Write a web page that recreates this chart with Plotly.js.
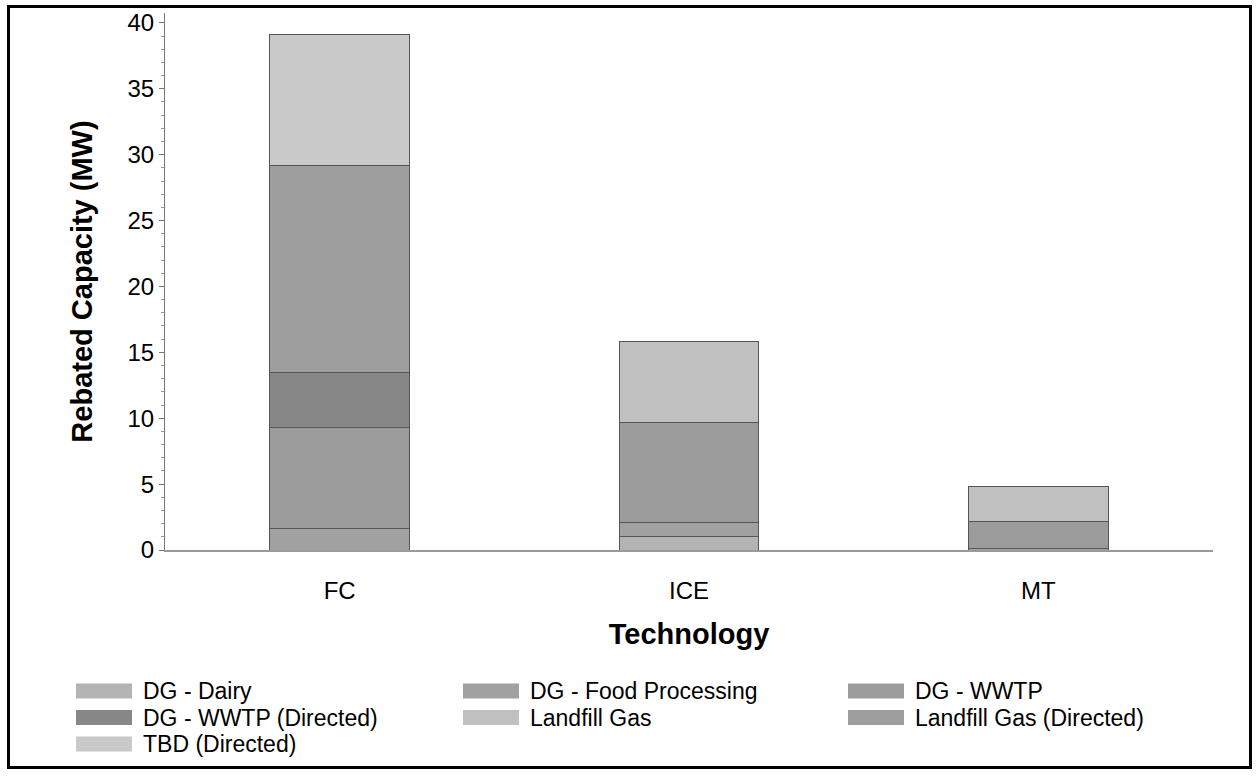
<!DOCTYPE html>
<html>
<head>
<meta charset="utf-8">
<script src="https://cdn.plot.ly/plotly-3.0.1.min.js"></script>
<style>
  html, body { margin: 0; background: #fff; overflow: hidden; width: 1259px; height: 776px; }
  #frame { position: absolute; left: 7px; top: 5px; width: 1245px; height: 764px; box-sizing: border-box; border: 3px solid #000; }
  #chart { position: absolute; left: 0; top: 0; width: 1259px; height: 776px; }
</style>
</head>
<body>
<div id="frame"></div>
<div id="chart"></div>
<script>
const categories = ['FC', 'ICE', 'MT'];
const seriesNames = ['DG - Dairy', 'DG - Food Processing', 'DG - WWTP', 'DG - WWTP (Directed)', 'Landfill Gas', 'Landfill Gas (Directed)', 'TBD (Directed)'];
const dgDairy = [0, 1.0, 0];
const dgFood = [1.6, 1.05, 0.1];
const dgWwtp = [7.7, 7.65, 2.1];
const dgWwtpDirected = [4.15, 0, 0];
const landfillGas = [0, 6.1, 2.6];
const landfillGasDirected = [15.75, 0, 0];
const tbdDirected = [9.9, 0, 0];
const seriesValues = [dgDairy, dgFood, dgWwtp, dgWwtpDirected, landfillGas, landfillGasDirected, tbdDirected];
const colors = ['#b4b4b4', '#a1a1a1', '#9b9b9b', '#878787', '#c0c0c0', '#9e9e9e', '#c9c9c9'];

const W = 1259, H = 776;
const M = {l: 165, r: W - 1213, t: 13, b: 226};
const pw = W - M.l - M.r, ph = H - M.t - M.b;
const px = x => (x - M.l) / pw;        // page x -> paper
const py = y => (H - M.b - y) / ph;    // page y -> paper
const FONT = 'Arial, "Liberation Sans", sans-serif';

const traces = seriesNames.map((n, i) => ({
  type: 'bar', name: n, x: categories, y: seriesValues[i],
  marker: {color: colors[i], line: {color: '#555', width: 1}},
  showlegend: false, hoverinfo: 'x+y+name'
}));

// custom legend: 3 columns with wide swatches
const shapes = [], annotations = [];
const colX = [76, 463, 848];
const rowY = [691, 717.5, 744];
seriesNames.forEach((n, i) => {
  const c = i % 3, r = Math.floor(i / 3);
  const x0 = colX[c], x1 = colX[c] + 56;
  shapes.push({type: 'rect', xref: 'paper', yref: 'paper',
    x0: px(x0), x1: px(x1), y0: py(rowY[r] + 7.5), y1: py(rowY[r] - 7.5),
    fillcolor: colors[i], line: {width: 0}});
  annotations.push({xref: 'paper', yref: 'paper', x: px(x1 + 9), y: py(rowY[r]),
    xanchor: 'left', yanchor: 'middle', showarrow: false, text: n,
    font: {family: FONT, size: 23, color: '#000'}});
});

const layout = {
  width: W, height: H,
  margin: M,
  paper_bgcolor: 'rgba(0,0,0,0)', plot_bgcolor: '#fff',
  barmode: 'stack', bargap: 0.6,
  font: {family: FONT, size: 24, color: '#000'},
  xaxis: {
    showline: true, linecolor: '#999', linewidth: 2, ticks: '',
    tickfont: {size: 24}, ticklabelstandoff: 18,
    title: {text: '<b>Technology</b>', font: {size: 29}, standoff: 21}
  },
  yaxis: {
    range: [0, 40.75], dtick: 5, showgrid: false, zeroline: false,
    showline: true, linecolor: '#777', linewidth: 1,
    ticks: 'outside', ticklen: 5, tickcolor: '#777',
    minor: {dtick: 1, ticks: 'outside', ticklen: 3, tickcolor: '#999'},
    tickfont: {size: 24},
    title: {text: '<b>Rebated Capacity (MW)</b>', font: {size: 29}, standoff: 26}
  },
  shapes: shapes,
  annotations: annotations
};

Plotly.newPlot('chart', traces, layout, {displayModeBar: false, staticPlot: true});
</script>
</body>
</html>
